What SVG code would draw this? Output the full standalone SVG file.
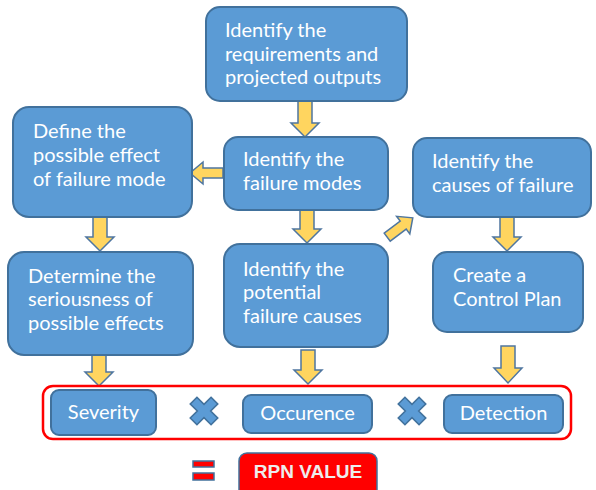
<svg xmlns="http://www.w3.org/2000/svg" width="596" height="490" viewBox="0 0 596 490">
<style>
.box{fill:#5B9BD5;stroke:#41719C;stroke-width:2}
.t{font-family:Lato,"Open Sans","Liberation Sans",sans-serif;font-size:20px;fill:#ffffff}
.arr{fill:#FFD55F;stroke:#4F76A0;stroke-width:1.5;stroke-linejoin:miter}
.x{fill:#5B9BD5;stroke:#41719C;stroke-width:1.5}
</style>
<rect width="596" height="490" fill="#ffffff"/>
<g id="connectors">
<polygon class="arr" points="298,101 312,101 312,123 319,123 305,137 291,123 298,123"/>
<polygon class="arr" points="300,210 314,210 314,229 321,229 307,243 293,229 300,229"/>
<polygon class="arr" points="223,168 203,168 203,162 190,173 203,184 203,178 223,178"/>
<polygon class="arr" points="93,217 107,217 107,237 114,237 100,251 86,237 93,237"/>
<polygon class="arr" points="500,217 514,217 514,237 521,237 507,251 493,237 500,237"/>
<polygon class="arr" transform="translate(400,227.5) rotate(-37)" points="-16,-5 4,-5 4,-11 16,0 4,11 4,5 -16,5"/>
<polygon class="arr" points="92,355 106,355 106,372 113,372 99,386 85,372 92,372"/>
<polygon class="arr" points="301,350 315,350 315,370 322,370 308,384 294,370 301,370"/>
<polygon class="arr" points="501,346 515,346 515,368 522,368 508,383 494,368 501,368"/>
</g>
<g id="n1"><rect class="box" x="206" y="7" width="201" height="94" rx="14"/>
<text class="t" x="225" y="37">Identify the</text><text class="t" x="225" y="61">requirements and</text><text class="t" x="225" y="84">projected outputs</text></g>
<g id="n2"><rect class="box" x="224" y="137" width="164" height="73" rx="14"/>
<text class="t" x="243" y="166">Identify the</text><text class="t" x="243" y="190">failure modes</text></g>
<g id="n3"><rect class="box" x="13" y="107" width="179" height="110" rx="16"/>
<text class="t" x="33" y="138">Define the</text><text class="t" x="33" y="162">possible effect</text><text class="t" x="33" y="186">of failure mode</text></g>
<g id="n4"><rect class="box" x="224" y="244" width="164" height="103" rx="16"/>
<text class="t" x="243" y="276">Identify the</text><text class="t" x="243" y="299">potential</text><text class="t" x="243" y="323">failure causes</text></g>
<g id="n5"><rect class="box" x="8" y="252" width="185" height="103" rx="16"/>
<text class="t" x="28" y="283">Determine the</text><text class="t" x="28" y="306">seriousness of</text><text class="t" x="28" y="330">possible effects</text></g>
<g id="n6"><rect class="box" x="413" y="138" width="178" height="79" rx="14"/>
<text class="t" x="432" y="168">Identify the</text><text class="t" x="432" y="192">causes of failure</text></g>
<g id="n7"><rect class="box" x="433" y="252" width="150" height="80" rx="14"/>
<text class="t" x="453" y="282">Create a</text><text class="t" x="453" y="306">Control Plan</text></g>
<g id="rpn-group"><rect x="43" y="386" width="528" height="53" rx="10" fill="none" stroke="#FF0000" stroke-width="2.5"/></g>
<g id="severity"><rect class="box" x="51" y="390" width="105" height="45" rx="8"/>
<text class="t" x="103.5" y="419" text-anchor="middle">Severity</text></g>
<g id="x1"><polygon class="x" transform="translate(204,411) rotate(45) scale(1.05)" points="-4.5,-14 4.5,-14 4.5,-4.5 14,-4.5 14,4.5 4.5,4.5 4.5,14 -4.5,14 -4.5,4.5 -14,4.5 -14,-4.5 -4.5,-4.5"/></g>
<g id="occurence"><rect class="box" x="243" y="395" width="129" height="38" rx="8"/>
<text class="t" x="307.5" y="420" text-anchor="middle">Occurence</text></g>
<g id="x2"><polygon class="x" transform="translate(412,411) rotate(45) scale(1.05)" points="-4.5,-14 4.5,-14 4.5,-4.5 14,-4.5 14,4.5 4.5,4.5 4.5,14 -4.5,14 -4.5,4.5 -14,4.5 -14,-4.5 -4.5,-4.5"/></g>
<g id="detection"><rect class="box" x="444" y="395" width="119" height="38" rx="8"/>
<text class="t" x="503.5" y="420" text-anchor="middle">Detection</text></g>
<g id="equals"><rect x="193" y="461" width="21" height="6" fill="#FF0000" stroke="#41719C" stroke-width="1.5"/><rect x="193" y="473" width="21" height="7" fill="#FF0000" stroke="#41719C" stroke-width="1.5"/></g>
<g id="rpn"><rect x="239" y="453" width="138" height="45" rx="8" fill="#FF0000" stroke="#41719C" stroke-width="1.5"/>
<text x="308" y="478" text-anchor="middle" font-family="Liberation Sans,Arial,sans-serif" font-weight="bold" font-size="19" fill="#EDEDED">RPN VALUE</text></g>
</svg>
